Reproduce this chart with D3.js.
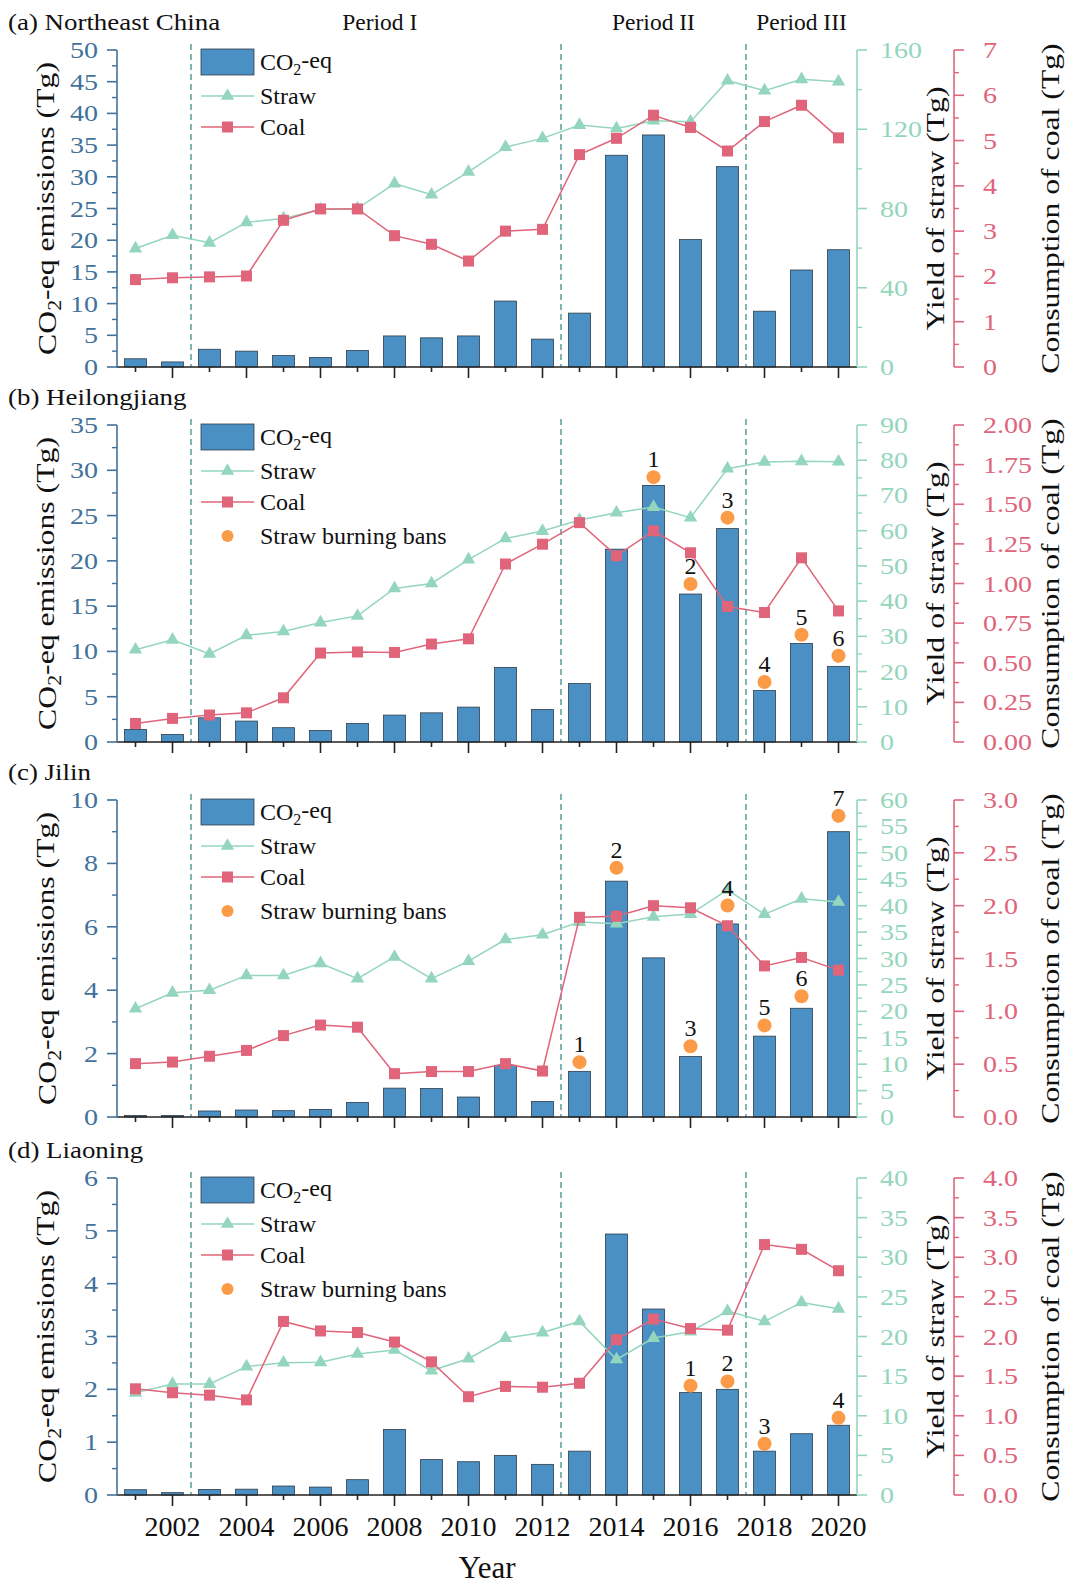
<!DOCTYPE html>
<html>
<head>
<meta charset="utf-8">
<script src="https://cdn.jsdelivr.net/npm/d3@7"></script>
<style>
  body { margin: 0; background: #fff; }
  svg text { font-family: "Liberation Serif", "Times New Roman", Times, "Nimbus Roman", "Tinos", "FreeSerif", serif; }
</style>
</head>
<body>
<div id="chart"></div>
<script>
const years = [2001, 2002, 2003, 2004, 2005, 2006, 2007, 2008, 2009, 2010,
               2011, 2012, 2013, 2014, 2015, 2016, 2017, 2018, 2019, 2020];
const periodBreaks = [2002.5, 2012.5, 2017.5];
const periodNames = ["Period I", "Period II", "Period III"];
const periodCenters = [2007.6, 2015, 2019];
const yearTickLabels = [2002, 2004, 2006, 2008, 2010, 2012, 2014, 2016, 2018, 2020];

// (a) Northeast China
const co2A = [1.3, 0.8, 2.8, 2.5, 1.8, 1.5, 2.6, 4.9, 4.6, 4.9, 10.4, 4.4, 8.5, 33.4, 36.6, 20.1, 31.6, 8.8, 15.3, 18.5];
const strawA = [59.8, 66.5, 62.7, 73, 75, 79.5, 80, 92.6, 87, 98.5, 111, 115.4, 122.1, 120.4, 124.3, 123.8, 144.5, 139.5, 145.2, 144];
const coalA = [1.93, 1.97, 1.99, 2.01, 3.24, 3.49, 3.49, 2.9, 2.71, 2.34, 3.0, 3.04, 4.69, 5.05, 5.56, 5.29, 4.77, 5.42, 5.78, 5.06];

// (b) Heilongjiang
const co2B = [1.39, 0.84, 2.67, 2.31, 1.58, 1.28, 2.05, 2.97, 3.22, 3.85, 8.24, 3.59, 6.45, 21.29, 28.33, 16.34, 23.56, 5.68, 10.88, 8.35];
const strawB = [26.2, 29.0, 25.0, 30.3, 31.4, 33.9, 35.8, 43.6, 45.0, 51.8, 57.8, 59.9, 63.0, 65.1, 66.7, 63.7, 77.6, 79.5, 79.7, 79.6];
const coalB = [0.117, 0.149, 0.17, 0.184, 0.279, 0.561, 0.568, 0.565, 0.618, 0.651, 1.123, 1.248, 1.384, 1.175, 1.332, 1.194, 0.855, 0.817, 1.162, 0.827];
const banYearsB = [2015, 2016, 2017, 2018, 2019, 2020];
const banValuesB = [29.24, 17.44, 24.77, 6.63, 11.84, 9.53];

// (c) Jilin
const co2C = [0.05, 0.05, 0.19, 0.22, 0.2, 0.24, 0.46, 0.91, 0.9, 0.63, 1.63, 0.49, 1.44, 7.44, 5.02, 1.91, 6.09, 2.55, 3.43, 9.0];
const strawC = [20.5, 23.5, 24.0, 26.8, 26.8, 29.1, 26.2, 30.3, 26.2, 29.5, 33.6, 34.5, 36.9, 36.6, 37.9, 38.4, 43.0, 38.4, 41.3, 40.7];
const coalC = [0.505, 0.52, 0.575, 0.63, 0.77, 0.87, 0.85, 0.41, 0.43, 0.43, 0.505, 0.435, 1.89, 1.9, 2.0, 1.98, 1.81, 1.43, 1.51, 1.39];
const banYearsC = [2013, 2014, 2016, 2017, 2018, 2019, 2020];
const banValuesC = [1.73, 7.86, 2.23, 6.67, 2.89, 3.81, 9.5];

// (d) Liaoning
const co2D = [0.1, 0.045, 0.105, 0.11, 0.17, 0.15, 0.29, 1.24, 0.67, 0.63, 0.75, 0.58, 0.83, 4.94, 3.52, 1.94, 2.0, 0.83, 1.16, 1.32];
const strawD = [12.9, 14.0, 14.0, 16.2, 16.7, 16.75, 17.8, 18.3, 15.7, 17.2, 19.8, 20.5, 21.9, 17.1, 19.8, 20.6, 23.2, 21.9, 24.3, 23.5];
const coalD = [1.34, 1.29, 1.26, 1.20, 2.19, 2.07, 2.05, 1.93, 1.68, 1.24, 1.37, 1.36, 1.41, 1.96, 2.22, 2.10, 2.08, 3.16, 3.10, 2.83];
const banYearsD = [2016, 2017, 2018, 2020];
const banValuesD = [2.07, 2.15, 0.97, 1.46];

// axis ticks (major)
const co2TicksA = [0, 5, 10, 15, 20, 25, 30, 35, 40, 45, 50];
const strawTicksA = [0, 40, 80, 120, 160];
const coalTicksA = [0, 1, 2, 3, 4, 5, 6, 7];
const co2TicksB = [0, 5, 10, 15, 20, 25, 30, 35];
const strawTicksB = [0, 10, 20, 30, 40, 50, 60, 70, 80, 90];
const coalTicksB = [0, 0.25, 0.5, 0.75, 1, 1.25, 1.5, 1.75, 2];
const co2TicksC = [0, 2, 4, 6, 8, 10];
const strawTicksC = [0, 5, 10, 15, 20, 25, 30, 35, 40, 45, 50, 55, 60];
const coalTicksC = [0, 0.5, 1, 1.5, 2, 2.5, 3];
const co2TicksD = [0, 1, 2, 3, 4, 5, 6];
const strawTicksD = [0, 5, 10, 15, 20, 25, 30, 35, 40];
const coalTicksD = [0, 0.5, 1, 1.5, 2, 2.5, 3, 3.5, 4];

const panels = [
  { title: "(a) Northeast China", top: 50, co2: co2A, straw: strawA, coal: coalA,
    co2Ticks: co2TicksA, strawTicks: strawTicksA, coalTicks: coalTicksA, coalFmt: "d",
    banYears: [], banValues: [], periods: true },
  { title: "(b) Heilongjiang", top: 425, co2: co2B, straw: strawB, coal: coalB,
    co2Ticks: co2TicksB, strawTicks: strawTicksB, coalTicks: coalTicksB, coalFmt: ".2f",
    banYears: banYearsB, banValues: banValuesB },
  { title: "(c) Jilin", top: 800, co2: co2C, straw: strawC, coal: coalC,
    co2Ticks: co2TicksC, strawTicks: strawTicksC, coalTicks: coalTicksC, coalFmt: ".1f",
    banYears: banYearsC, banValues: banValuesC },
  { title: "(d) Liaoning", top: 1178, co2: co2D, straw: strawD, coal: coalD,
    co2Ticks: co2TicksD, strawTicks: strawTicksD, coalTicks: coalTicksD, coalFmt: ".1f",
    banYears: banYearsD, banValues: banValuesD, xLabels: true }
];

const width = 1073, height = 1584;
const plotH = 317;
const xLeft = 117, xRight = 857, coalAxisX = 954;
const barW = 22;

const colors = {
  bar: "#4a90c4", barStroke: "#2f3d4a",
  left: "#41729b", straw: "#93d6bd", coal: "#e0647a",
  ban: "#fb9a47", dash: "#3f8f8c"
};

const svg = d3.select("#chart").append("svg")
  .attr("width", width).attr("height", height);

const xScale = d3.scaleLinear().domain([2000.5, 2020.5]).range([xLeft, xRight]);

// text drawn a bit wider than tall, as in the reference
function wideText(g, x, y, str, size, stretch, anchor, fill, rotate) {
  return g.append("text")
    .attr("transform", `translate(${x},${y})` + (rotate ? ` rotate(${rotate})` : "") + ` scale(${stretch},1)`)
    .attr("text-anchor", anchor)
    .style("font-size", size + "px")
    .attr("fill", fill)
    .text(str);
}

// "CO" + subscript 2 + rest
function co2Label(t, subSize, rest) {
  t.append("tspan").text("CO");
  t.append("tspan").attr("dy", "0.3em").style("font-size", subSize + "px").text("2");
  t.append("tspan").attr("dy", "-0.3em").text(rest);
  return t;
}

function drawYAxis(g, scale, ax, ticks, fmt, color, dir, labelGap) {
  const f = d3.format(fmt);
  const top = scale(ticks[ticks.length - 1]), bottom = scale(0);
  g.append("line")
    .attr("x1", ax).attr("x2", ax).attr("y1", bottom).attr("y2", top)
    .attr("stroke", color).attr("stroke-width", 1.6);
  const minors = ticks.slice(1).map((t, i) => (t + ticks[i]) / 2);
  g.selectAll(null).data(ticks).enter().append("line")
    .attr("x1", ax).attr("x2", ax + dir * 10)
    .attr("y1", (d) => scale(d)).attr("y2", (d) => scale(d))
    .attr("stroke", color).attr("stroke-width", 1.6);
  g.selectAll(null).data(minors).enter().append("line")
    .attr("x1", ax).attr("x2", ax + dir * 5)
    .attr("y1", (d) => scale(d)).attr("y2", (d) => scale(d))
    .attr("stroke", color).attr("stroke-width", 1.4);
  ticks.forEach((d) => {
    wideText(g, ax + dir * labelGap, scale(d) + 8, f(d), 23, 1.22,
      dir < 0 ? "end" : "start", color);
  });
}

function drawPanel(p) {
  const g = svg.append("g");
  const top = p.top, bottom = p.top + plotH;
  const yLeft = d3.scaleLinear().domain([0, p.co2Ticks[p.co2Ticks.length - 1]]).range([bottom, top]);
  const yStraw = d3.scaleLinear().domain([0, p.strawTicks[p.strawTicks.length - 1]]).range([bottom, top]);
  const yCoal = d3.scaleLinear().domain([0, p.coalTicks[p.coalTicks.length - 1]]).range([bottom, top]);

  // panel title
  wideText(g, 8, top - 20, p.title, 23, 1.17, "start", "#111");

  if (p.periods) {
    periodNames.forEach((name, i) => {
      g.append("text").attr("x", xScale(periodCenters[i])).attr("y", 30)
        .attr("text-anchor", "middle").style("font-size", "23.5px").attr("fill", "#111")
        .text(name);
    });
  }

  // period separators
  g.selectAll(null).data(periodBreaks).enter().append("line")
    .attr("x1", (d) => xScale(d)).attr("x2", (d) => xScale(d))
    .attr("y1", top - 6).attr("y2", bottom)
    .attr("stroke", colors.dash).attr("stroke-width", 1.3)
    .attr("stroke-dasharray", "6,4");

  // bars
  g.selectAll(null).data(years).enter().append("rect")
    .attr("x", (d) => xScale(d) - barW / 2)
    .attr("width", barW)
    .attr("y", (d, i) => yLeft(p.co2[i]))
    .attr("height", (d, i) => bottom - yLeft(p.co2[i]))
    .attr("fill", colors.bar).attr("stroke", colors.barStroke).attr("stroke-width", 0.8);

  // straw line
  g.append("path").datum(years)
    .attr("d", d3.line().x((d) => xScale(d)).y((d, i) => yStraw(p.straw[i])))
    .attr("fill", "none").attr("stroke", colors.straw).attr("stroke-width", 1.5);
  g.selectAll(null).data(years).enter().append("path")
    .attr("d", d3.symbol(d3.symbolTriangle, 78))
    .attr("transform", (d, i) => `translate(${xScale(d)},${yStraw(p.straw[i])})`)
    .attr("fill", colors.straw);

  // coal line
  g.append("path").datum(years)
    .attr("d", d3.line().x((d) => xScale(d)).y((d, i) => yCoal(p.coal[i])))
    .attr("fill", "none").attr("stroke", colors.coal).attr("stroke-width", 1.5);
  g.selectAll(null).data(years).enter().append("rect")
    .attr("x", (d) => xScale(d) - 5.5)
    .attr("y", (d, i) => yCoal(p.coal[i]) - 5.5)
    .attr("width", 11).attr("height", 11)
    .attr("fill", colors.coal);

  // straw burning bans
  p.banYears.forEach((yr, i) => {
    const cy = yLeft(p.banValues[i]);
    g.append("circle").attr("cx", xScale(yr)).attr("cy", cy).attr("r", 7).attr("fill", colors.ban);
    g.append("text").attr("x", xScale(yr)).attr("y", cy - 10)
      .attr("text-anchor", "middle").style("font-size", "24px").attr("fill", "#111")
      .text(i + 1);
  });

  // x axis
  g.append("line").attr("x1", xLeft).attr("x2", xRight).attr("y1", bottom).attr("y2", bottom)
    .attr("stroke", "#222").attr("stroke-width", 1.6);
  g.selectAll(null).data(years).enter().append("line")
    .attr("x1", (d) => xScale(d)).attr("x2", (d) => xScale(d))
    .attr("y1", bottom).attr("y2", (d) => bottom + (d % 2 === 0 ? 11 : 5))
    .attr("stroke", "#222").attr("stroke-width", 1.6);
  if (p.xLabels) {
    g.selectAll(null).data(yearTickLabels).enter().append("text")
      .attr("x", (d) => xScale(d)).attr("y", bottom + 41)
      .attr("text-anchor", "middle").style("font-size", "28px").attr("fill", "#111")
      .text((d) => d);
    g.append("text").attr("x", (xLeft + xRight) / 2).attr("y", 1578)
      .attr("text-anchor", "middle").style("font-size", "31px").attr("fill", "#111")
      .text("Year");
  }

  // y axes
  drawYAxis(g, yLeft, xLeft, p.co2Ticks, "d", colors.left, -1, 19);
  drawYAxis(g, yStraw, xRight, p.strawTicks, "d", colors.straw, 1, 23);
  drawYAxis(g, yCoal, coalAxisX, p.coalTicks, p.coalFmt, colors.coal, 1, 29);

  // axis titles
  const midY = (top + bottom) / 2;
  const t1 = wideText(g, 56, midY, null, 26, 1.22, "middle", "#111", -90);
  co2Label(t1, 18, "-eq emissions (Tg)");
  wideText(g, 944, midY, "Yield of straw (Tg)", 26, 1.22, "middle", "#111", -90);
  wideText(g, 1059, midY, "Consumption of coal (Tg)", 26, 1.22, "middle", "#111", -90);

  // legend
  const lx = 201, lw = 53, tx = 260;
  g.append("rect").attr("x", lx).attr("y", top - 1).attr("width", lw).attr("height", 26)
    .attr("fill", colors.bar).attr("stroke", colors.barStroke).attr("stroke-width", 0.8);
  const lt = g.append("text").attr("x", tx).attr("y", top + 20).style("font-size", "24px").attr("fill", "#111");
  co2Label(lt, 16, "-eq");

  const rowStraw = top + 46, rowCoal = top + 77, rowBan = top + 111;
  g.append("line").attr("x1", lx).attr("x2", lx + lw).attr("y1", rowStraw).attr("y2", rowStraw)
    .attr("stroke", colors.straw).attr("stroke-width", 1.5);
  g.append("path").attr("d", d3.symbol(d3.symbolTriangle, 78))
    .attr("transform", `translate(${lx + lw / 2},${rowStraw})`).attr("fill", colors.straw);
  g.append("text").attr("x", tx).attr("y", rowStraw + 8).style("font-size", "24px").attr("fill", "#111").text("Straw");

  g.append("line").attr("x1", lx).attr("x2", lx + lw).attr("y1", rowCoal).attr("y2", rowCoal)
    .attr("stroke", colors.coal).attr("stroke-width", 1.5);
  g.append("rect").attr("x", lx + lw / 2 - 5.5).attr("y", rowCoal - 5.5).attr("width", 11).attr("height", 11)
    .attr("fill", colors.coal);
  g.append("text").attr("x", tx).attr("y", rowCoal + 8).style("font-size", "24px").attr("fill", "#111").text("Coal");

  if (p.banYears.length) {
    g.append("circle").attr("cx", lx + lw / 2).attr("cy", rowBan).attr("r", 6).attr("fill", colors.ban);
    g.append("text").attr("x", tx).attr("y", rowBan + 8).style("font-size", "24px").attr("fill", "#111")
      .text("Straw burning bans");
  }
}

panels.forEach(drawPanel);
</script>
</body>
</html>
